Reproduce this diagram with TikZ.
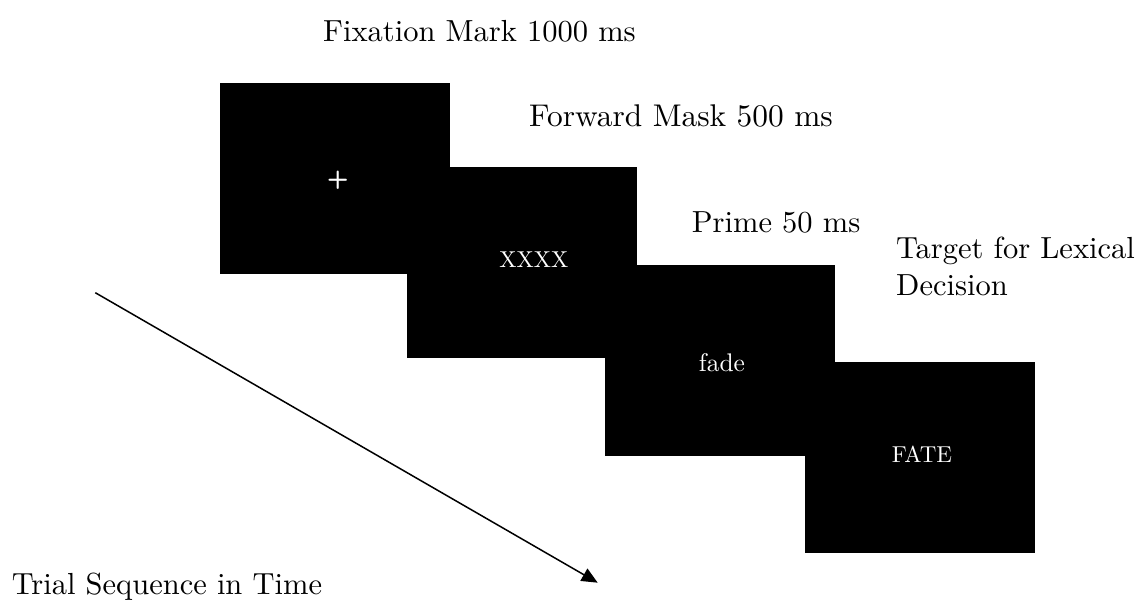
\documentclass[tikz,border=0pt]{standalone}
\usepackage{fontspec}
\setmainfont{lmroman10-regular.otf}
\setsansfont{lmsans10-bold.otf}
\usetikzlibrary{arrows.meta}
\begin{document}
\begin{tikzpicture}[x=1pt,y=-1pt,
  screen/.style={rectangle, fill=black, draw=none, inner sep=0pt,
    minimum width=230pt, minimum height=191pt, anchor=north west},
  caption/.style={inner sep=0pt, anchor=base west, align=left,
    font=\fontsize{30.5}{37}\selectfont},
  stim/.style={inner sep=0pt, anchor=base, text=white,
    font=\fontsize{23}{23}\selectfont},
  timeline/.style={line width=1.5pt, -{Triangle[length=16pt,width=14pt]}}]
  \useasboundingbox (0,0) rectangle (1141,604);

  % stimulus screens, each one shifted down and right from the previous
  \node[screen] (fix)    at (220,83)  {};
  \node[screen] (mask)   at (407,167) {};
  \node[screen] (prime)  at (605,265) {};
  \node[screen] (target) at (805,362) {};

  % screen contents
  \node[inner sep=0pt, text=white, font=\sffamily\fontsize{25}{25}\selectfont]
    (fixtxt) at (337.7,180) {+};
  \node[stim] (masktxt)   at (533.8,267.3) {XXXX};
  \node[stim, font=\fontsize{25.5}{25.5}\selectfont] (primetxt) at (722,371.7) {fade};
  \node[stim] (targettxt) at (922,462.3)   {FATE};

  % phase captions
  \node[caption] (fixcap)    at (323,41.7)  {Fixation Mark 1000 ms};
  \node[caption, font=\fontsize{31.4}{37}\selectfont] (maskcap) at (529,126.5) {Forward Mask 500 ms};
  \node[caption] (primecap)  at (691.7,233) {Prime 50 ms};
  \node[caption] (targetcap) at (896,295)   {Target for Lexical\\Decision};

  % time axis
  \coordinate (tstart) at (95.3,292.7);
  \coordinate (tend)   at (597.7,582.7);
  \draw[timeline] (tstart) -- (tend);
  \node[caption] (timecap) at (11.7,594.3) {Trial Sequence in Time};
\end{tikzpicture}
\end{document}
